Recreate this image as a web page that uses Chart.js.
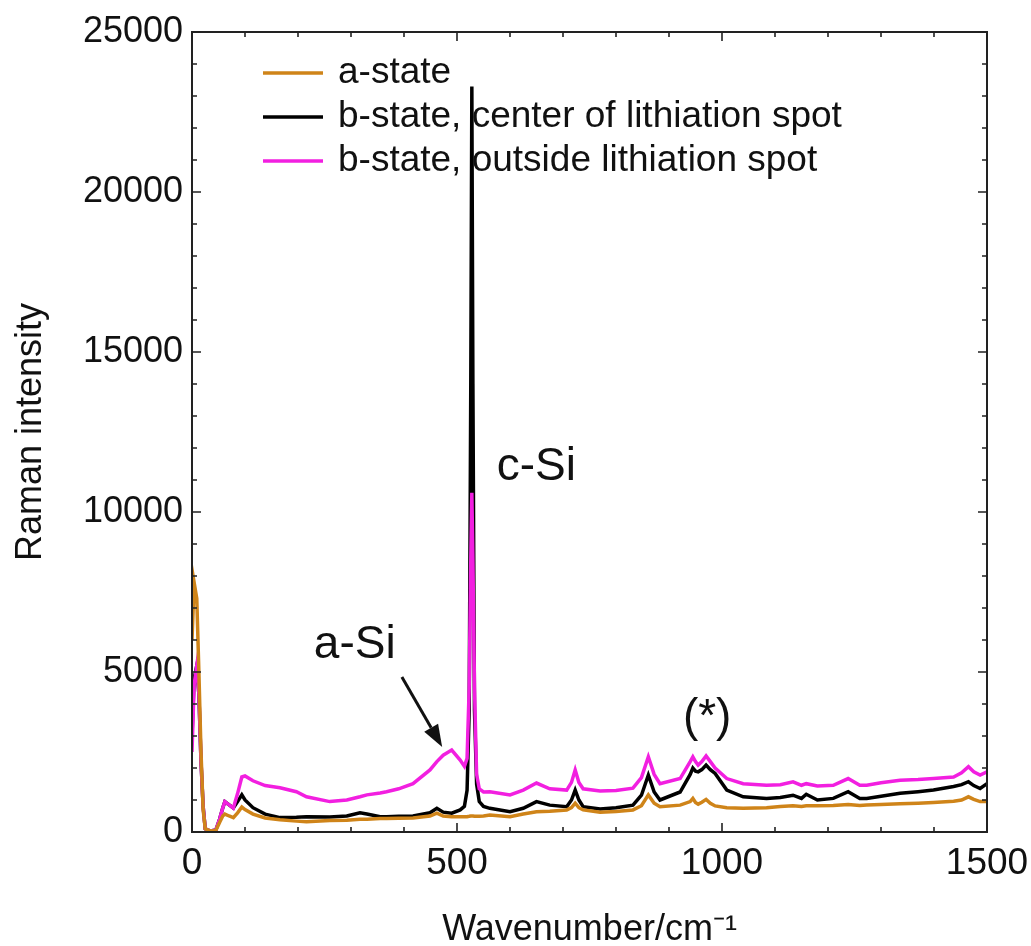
<!DOCTYPE html>
<html>
<head>
<meta charset="utf-8">
<script src="https://cdn.jsdelivr.net/npm/chart.js@4"></script>
<style>
  html, body { margin: 0; padding: 0; background: #fff; }
</style>
</head>
<body>
<canvas id="ramanChart" width="1031" height="946"></canvas>
<script>
// wavenumber in cm^-1
const wavenumber = [
  0, 4, 9, 13, 17, 21, 25, 35, 45, 52,
  58, 62, 70, 78, 86, 94, 100, 115, 138, 166,
  197, 216, 260, 292, 317, 330, 355, 367, 390, 417,
  449, 462, 474, 490, 506, 514, 519, 523, 526, 528,
  530, 533, 537, 542, 550, 562, 600, 625, 650, 675,
  707, 716, 723, 730, 738, 770, 800, 832, 848, 861,
  872, 883, 921, 940, 945, 950, 955, 962, 970, 978,
  987, 1009, 1040, 1084, 1110, 1134, 1150, 1159, 1180, 1210,
  1238, 1260, 1273, 1300, 1336, 1370, 1399, 1437, 1452, 1465,
  1475, 1487, 1500
];
const aState = [
  6000, 7800, 7300, 5000, 2500, 700, 100, 30, 50, 300,
  500, 560, 500, 450, 600, 780, 700, 560, 440, 380,
  340, 320, 360, 370, 400, 400, 420, 420, 430, 440,
  500, 590, 500, 480, 480, 480, 480, 490, 500, 500,
  500, 490, 490, 490, 500, 530, 480, 560, 635, 650,
  690, 760, 900, 760, 690, 620, 640, 690, 820, 1160,
  900, 790, 840, 950, 1050, 920, 870, 930, 1020, 900,
  815, 760, 740, 760, 800, 820, 800, 820, 820, 830,
  860, 830, 840, 860, 880, 900, 920, 960, 1000, 1100,
  1020, 950, 950
];
const bCenter = [
  3000, 4800, 5200, 4300, 2200, 800, 100, 30, 60, 400,
  750, 950, 850, 750, 950, 1160, 1000, 760, 560, 450,
  460, 480, 470, 500, 600, 560, 480, 480, 490, 500,
  600, 740, 620, 590, 690, 800, 1300, 3800, 14000, 23300,
  14000, 3800, 1500, 950, 800, 740, 635, 740, 950, 840,
  790, 1000, 1310, 1000, 790, 720, 760, 840, 1150, 1780,
  1250, 1000, 1250, 1800, 2000, 1900, 1880, 1950, 2090, 1950,
  1830, 1310, 1100, 1050, 1080, 1150, 1050, 1180, 1000, 1050,
  1260, 1050, 1050, 1120, 1210, 1260, 1310, 1420, 1480, 1570,
  1450, 1360, 1510
];
const bOutside = [
  2500, 4600, 5200, 4300, 2200, 800, 100, 30, 60, 400,
  750, 950, 850, 750, 1200, 1720, 1750, 1600, 1450, 1380,
  1260, 1100, 950, 1000, 1100, 1160, 1220, 1260, 1350, 1510,
  1940, 2200, 2400, 2560, 2250, 2050, 2300, 4500, 8500, 10600,
  8500, 4500, 1800, 1350, 1250, 1260, 1160, 1310, 1530, 1350,
  1310, 1550, 1940, 1550, 1350, 1280, 1300, 1370, 1700, 2350,
  1800, 1510, 1670, 2200, 2350, 2200, 2090, 2200, 2380, 2200,
  2000, 1670, 1510, 1460, 1480, 1570, 1460, 1510, 1440, 1460,
  1670, 1460, 1460, 1540, 1620, 1640, 1670, 1720, 1850, 2040,
  1880, 1780, 1880
];
const seriesNames = ["a-state", "b-state, center of lithiation spot", "b-state, outside lithiation spot"];
const xTicks = [0, 500, 1000, 1500];
const yTicks = [0, 5000, 10000, 15000, 20000, 25000];
// annotation anchors, in data units
const labelCSi = { text: "c-Si", x: 575, y: 11400 };
const labelASi = { text: "a-Si", x: 307, y: 5840 };
const labelStar = { text: "(*)", x: 972, y: 3550 };
const arrowASi = { x0: 396, y0: 4840, x1: 472, y1: 2660 };

const FONT = '"Liberation Sans", Arial, Helvetica, sans-serif';

function toPoints(ys) {
  return wavenumber.map((x, i) => ({ x: x, y: ys[i] }));
}

// frame with inward ticks on all four sides
const framePlugin = {
  id: "frame",
  afterDraw(chart) {
    const { ctx, chartArea: a, scales: { x, y } } = chart;
    ctx.save();
    ctx.strokeStyle = "#222";
    ctx.lineWidth = 2;
    ctx.strokeRect(a.left, a.top, a.right - a.left, a.bottom - a.top);
    ctx.lineWidth = 1.6;
    ctx.beginPath();
    for (let v = 0; v <= 1500; v += 100) {
      const px = x.getPixelForValue(v);
      const len = v % 500 === 0 ? 9 : 5;
      ctx.moveTo(px, a.bottom); ctx.lineTo(px, a.bottom - len);
      ctx.moveTo(px, a.top); ctx.lineTo(px, a.top + len);
    }
    for (let v = 0; v <= 25000; v += 1000) {
      const py = y.getPixelForValue(v);
      const len = v % 5000 === 0 ? 9 : 5;
      ctx.moveTo(a.left, py); ctx.lineTo(a.left + len, py);
      ctx.moveTo(a.right, py); ctx.lineTo(a.right - len, py);
    }
    ctx.stroke();
    ctx.restore();
  }
};

// legend inside the plot plus peak labels
const notesPlugin = {
  id: "notes",
  afterDraw(chart) {
    const { ctx, scales: { x, y } } = chart;
    ctx.save();
    ctx.font = "37px " + FONT;
    ctx.textBaseline = "middle";
    ctx.fillStyle = "#111";
    chart.data.datasets.forEach((ds, i) => {
      const ly = 73 + i * 44;
      ctx.strokeStyle = ds.borderColor;
      ctx.lineWidth = 3.5;
      ctx.beginPath();
      ctx.moveTo(263, ly); ctx.lineTo(323, ly);
      ctx.stroke();
      ctx.fillText(ds.label, 338, ly);
    });

    ctx.font = "46px " + FONT;
    ctx.textAlign = "left";
    ctx.fillText(labelCSi.text, x.getPixelForValue(labelCSi.x), y.getPixelForValue(labelCSi.y));
    ctx.textAlign = "center";
    ctx.fillText(labelASi.text, x.getPixelForValue(labelASi.x), y.getPixelForValue(labelASi.y));
    ctx.fillText(labelStar.text, x.getPixelForValue(labelStar.x), y.getPixelForValue(labelStar.y));

    const ax0 = x.getPixelForValue(arrowASi.x0), ay0 = y.getPixelForValue(arrowASi.y0);
    const ax1 = x.getPixelForValue(arrowASi.x1), ay1 = y.getPixelForValue(arrowASi.y1);
    const ang = Math.atan2(ay1 - ay0, ax1 - ax0);
    const hl = 22, hw = 8;
    const bx = ax1 - hl * Math.cos(ang), by = ay1 - hl * Math.sin(ang);
    ctx.strokeStyle = "#111";
    ctx.lineWidth = 3;
    ctx.beginPath();
    ctx.moveTo(ax0, ay0); ctx.lineTo(bx, by);
    ctx.stroke();
    ctx.beginPath();
    ctx.moveTo(ax1, ay1);
    ctx.lineTo(bx + hw * Math.sin(ang), by - hw * Math.cos(ang));
    ctx.lineTo(bx - hw * Math.sin(ang), by + hw * Math.cos(ang));
    ctx.closePath();
    ctx.fill();
    ctx.restore();
  }
};

new Chart(document.getElementById("ramanChart").getContext("2d"), {
  type: "line",
  data: {
    datasets: [
      { label: seriesNames[0], data: toPoints(aState), borderColor: "#cf8419", order: 0 },
      { label: seriesNames[1], data: toPoints(bCenter), borderColor: "#000000", order: 2 },
      { label: seriesNames[2], data: toPoints(bOutside), borderColor: "#f21fe0", order: 1 }
    ]
  },
  options: {
    responsive: false,
    animation: false,
    parsing: false,
    layout: { padding: { left: 0, right: 44, top: 32, bottom: 0 } },
    elements: {
      point: { radius: 0 },
      line: { borderWidth: 3.5, tension: 0 }
    },
    plugins: { legend: { display: false }, tooltip: { enabled: false } },
    scales: {
      x: {
        type: "linear",
        min: 0, max: 1500,
        grid: { display: false },
        border: { display: false },
        afterBuildTicks: s => { s.ticks = xTicks.map(v => ({ value: v })); },
        afterFit: s => { s.height = 114; s.paddingLeft = 0; s.paddingRight = 0; },
        ticks: { color: "#111", padding: 2, maxRotation: 0, font: { family: FONT, size: 37 },
                 callback: v => String(v) },
        title: {
          display: true, text: "Wavenumber/cm\u207B\u00B9", color: "#111",
          padding: { top: 0, bottom: -6 }, font: { family: FONT, size: 36 }
        }
      },
      y: {
        min: 0, max: 25000,
        grid: { display: false },
        border: { display: false },
        afterBuildTicks: s => { s.ticks = yTicks.map(v => ({ value: v })); },
        afterFit: s => { s.width = 192; s.paddingTop = 0; s.paddingBottom = 0; },
        ticks: { color: "#111", padding: 1, font: { family: FONT, size: 36 },
                 callback: v => String(v) },
        title: {
          display: true, text: "Raman intensity", color: "#111",
          padding: { top: 9, bottom: 0 }, font: { family: FONT, size: 36 }
        }
      }
    }
  },
  plugins: [framePlugin, notesPlugin]
});
</script>
</body>
</html>
